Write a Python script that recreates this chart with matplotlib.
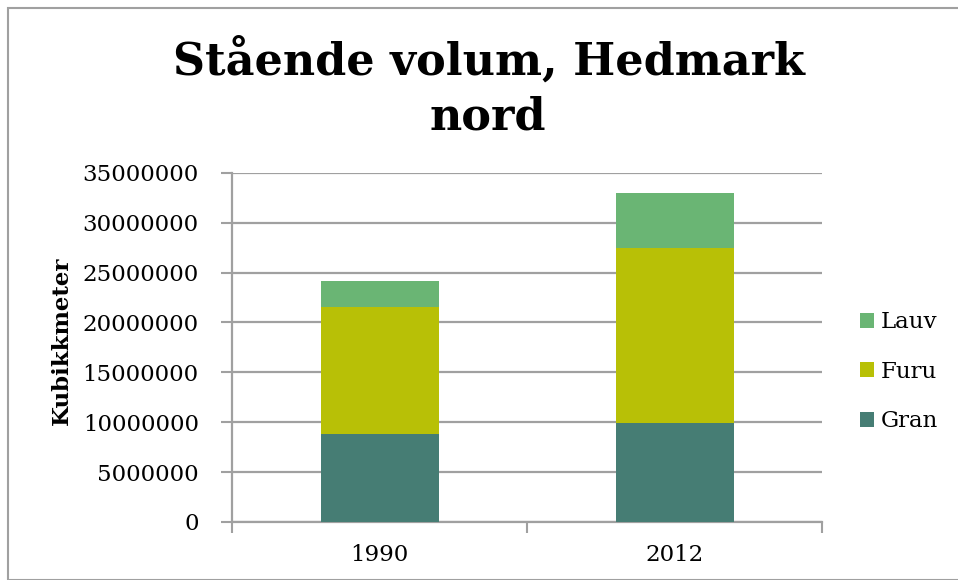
import numpy as np
import matplotlib.pyplot as plt
from matplotlib.patches import Rectangle

plt.rcParams['font.family'] = ['DejaVu Serif']

aar = ['1990', '2012']
gran = [8800000, 9930000]
furu = [12730000, 17520000]
lauv = [2570000, 5550000]
yticks = [0, 5000000, 10000000, 15000000, 20000000, 25000000, 30000000, 35000000]

farge_gran = '#467D74'
farge_furu = '#B8C006'
farge_lauv = '#6AB574'
grid_grey = '#A0A0A0'

fig = plt.figure(figsize=(9.58, 5.80), dpi=100)
ax = fig.add_axes([0.2422, 0.1, 0.6160, 0.6022])

x = np.arange(len(aar))
b1 = ax.bar(x, gran, width=0.4, color=farge_gran, label='Gran', zorder=3)
b2 = ax.bar(x, furu, width=0.4, bottom=gran, color=farge_furu, label='Furu', zorder=3)
b3 = ax.bar(x, lauv, width=0.4, bottom=np.add(gran, furu), color=farge_lauv, label='Lauv', zorder=3)

ax.set_xlim(-0.5, 1.5)
ax.set_ylim(0, 35000000)
ax.set_yticks(yticks)
ax.set_yticklabels([str(v) for v in yticks])
ax.yaxis.grid(True, color=grid_grey, linewidth=1.6, zorder=0)

# x ticks sit between categories, labels at the category centre
ax.set_xticks([-0.5, 0.5, 1.5])
ax.set_xticklabels([])
ax.set_xticks(x, minor=True)
ax.set_xticklabels(aar, minor=True)
ax.tick_params(axis='x', which='minor', length=0, pad=16, labelsize=16.5)
ax.tick_params(axis='x', which='major', length=8, width=1.5, color=grid_grey)
ax.tick_params(axis='y', length=8, width=1.5, color=grid_grey, pad=16, labelsize=16.5)

for s in ['top', 'right']:
    ax.spines[s].set_visible(False)
for s in ['left', 'bottom']:
    ax.spines[s].set_color(grid_grey)
    ax.spines[s].set_linewidth(1.6)

ax.set_ylabel('Kubikkmeter', fontsize=16.5, fontweight='bold', labelpad=7)
ax.yaxis.label.set_y(0.52)

# tittel i to linjer
fig.text(0.51, 1 - 75 / 580, 'Stående volum, Hedmark', ha='center', va='baseline',
         fontsize=32, fontweight='bold')
fig.text(0.509, 1 - 130 / 580, 'nord', ha='center', va='baseline',
         fontsize=32, fontweight='bold')

ax.legend(handles=[b3, b2, b1], loc='center left', bbox_to_anchor=(1.03, 0.43),
          frameon=False, fontsize=16.5, handlelength=0.6, handleheight=0.6,
          handletextpad=0.3, labelspacing=1.2)

fig.patches.append(Rectangle((8 / 958, 0), 1.0, 1 - 8 / 580, transform=fig.transFigure,
                             fill=False, edgecolor='#A0A0A0', linewidth=1.5))

fig.savefig('out.png', dpi=100)
